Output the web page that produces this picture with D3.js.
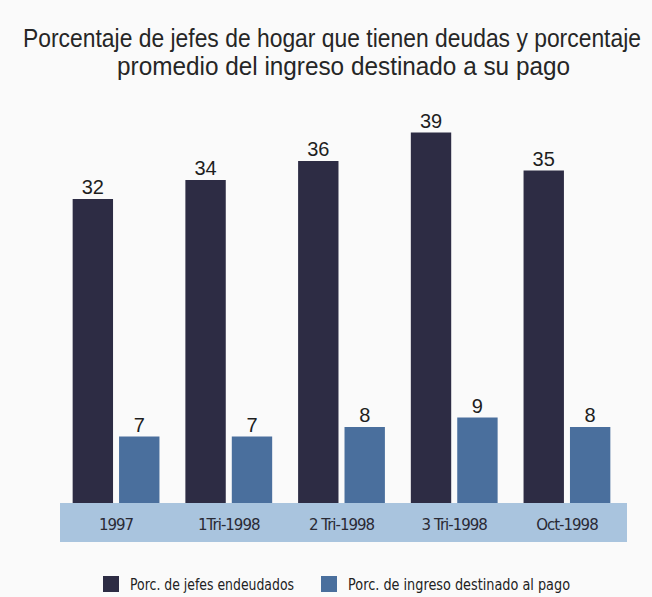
<!DOCTYPE html>
<html>
<head>
<meta charset="utf-8">
<script src="https://cdn.jsdelivr.net/npm/d3@7"></script>
<style>
  body { margin: 0; background: #fafafa; }
  svg { display: block; }
</style>
</head>
<body>
<div id="chart"></div>
<script>
// Data
const categories = ["1997", "1Tri-1998", "2 Tri-1998", "3 Tri-1998", "Oct-1998"];
const endeudados = [32, 34, 36, 39, 35];
const ingresoPago = [7, 7, 8, 9, 8];
const seriesNames = ["Porc. de jefes endeudados", "Porc. de ingreso destinado al pago"];
const titleLines = [
    "Porcentaje de jefes de hogar que tienen deudas y porcentaje",
    "promedio del ingreso destinado a su pago"
];

const width = 652;
const height = 597;
const colors = ["#2d2c44", "#4a6f9d"];

const svg = d3.select("#chart")
    .append("svg")
    .attr("width", width)
    .attr("height", height);

svg.append("rect")
    .attr("width", width)
    .attr("height", height)
    .attr("fill", "#fafafa");

// Title (two lines, condensed, stretched a bit vertically)
const titleFont = "'Liberation Sans Narrow', 'Liberation Sans', Arial, sans-serif";
const titlePos = [[23, 47, 618], [117, 75, 453]];
svg.append("g")
    .selectAll("text")
    .data(titleLines)
    .enter().append("text")
    .attr("transform", (d, i) => `translate(${titlePos[i][0]},${titlePos[i][1]}) scale(1,1.15)`)
    .attr("textLength", (d, i) => titlePos[i][2])
    .attr("lengthAdjust", "spacingAndGlyphs")
    .style("font-family", titleFont)
    .style("font-size", "22.5px")
    .style("fill", "#262626")
    .text(d => d);

// Scales
const x0 = d3.scaleBand()
    .domain(categories)
    .range([58, 625])
    .paddingInner(0.23)
    .paddingOuter(0.13);

const x1 = d3.scaleBand()
    .domain([0, 1])
    .range([0, x0.bandwidth()])
    .paddingInner(0.13);

const y = d3.scaleLinear()
    .domain([0, 40])
    .range([503, 123]);

const rows = categories.map((c, i) => ({ cat: c, vals: [endeudados[i], ingresoPago[i]] }));

// Category band
svg.append("rect")
    .attr("x", 60)
    .attr("y", y(0))
    .attr("width", 567)
    .attr("height", 39)
    .attr("fill", "#a9c4de");

const groups = svg.append("g")
    .selectAll("g")
    .data(rows)
    .enter().append("g")
    .attr("transform", d => `translate(${x0(d.cat)},0)`);

groups.selectAll("rect")
    .data(d => d.vals.map((v, k) => ({ k: k, v: v })))
    .enter().append("rect")
    .attr("x", d => x1(d.k))
    .attr("y", d => y(d.v))
    .attr("width", x1.bandwidth())
    .attr("height", d => y(0) - y(d.v))
    .attr("fill", d => colors[d.k]);

groups.selectAll("text.val")
    .data(d => d.vals.map((v, k) => ({ k: k, v: v })))
    .enter().append("text")
    .attr("class", "val")
    .attr("x", d => x1(d.k) + x1.bandwidth() / 2)
    .attr("y", d => y(d.v) - 5)
    .attr("text-anchor", "middle")
    .style("font-family", titleFont)
    .style("font-size", "20px")
    .style("fill", "#1e1e1e")
    .text(d => d.v);

// Category labels inside the band
svg.append("g")
    .selectAll("text")
    .data(categories)
    .enter().append("text")
    .attr("x", d => x0(d) + x0.bandwidth() / 2)
    .attr("y", y(0) + 27)
    .attr("text-anchor", "middle")
    .style("font-family", "'DejaVu Sans', sans-serif")
    .style("font-size", "15px")
    .style("letter-spacing", "-1px")
    .style("fill", "#2a2a35")
    .text(d => d);

// Legend
const legendX = [103, 321];
const legendW = [164, 222];
const legend = svg.append("g")
    .selectAll("g")
    .data(seriesNames)
    .enter().append("g")
    .attr("transform", (d, i) => `translate(${legendX[i]},576)`);

legend.append("rect")
    .attr("width", 16)
    .attr("height", 16)
    .attr("fill", (d, i) => colors[i]);

legend.append("text")
    .attr("x", 27)
    .attr("y", 14)
    .attr("textLength", (d, i) => legendW[i])
    .attr("lengthAdjust", "spacingAndGlyphs")
    .style("font-family", "'DejaVu Sans', sans-serif")
    .style("font-size", "15px")
    .style("fill", "#222")
    .text(d => d);
</script>
</body>
</html>
